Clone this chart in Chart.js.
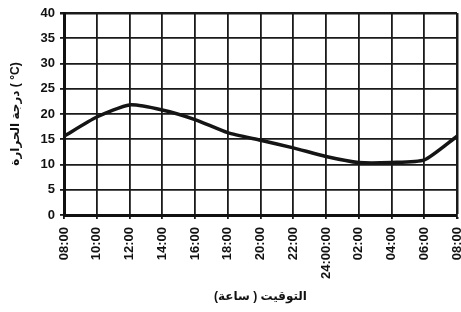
<!DOCTYPE html>
<html><head><meta charset="utf-8">
<script src="https://cdn.jsdelivr.net/npm/chart.js@4/dist/chart.umd.min.js"></script>
<style>html,body{margin:0;padding:0;background:#fff}#w{width:461px;height:312px}</style>
</head><body><div id="w"><canvas id="c"></canvas></div>
<script>
const categories = ["08:00","10:00","12:00","14:00","16:00","18:00","20:00","22:00","24:00:00","02:00","04:00","06:00","08:00"];
const temperatures = [15.6,19.4,21.8,20.8,18.9,16.3,14.8,13.3,11.6,10.4,10.4,10.9,15.6];
const yTicks = [0,5,10,15,20,25,30,35,40];
const xTitle = "التوقيت ( ساعة)";
const yTitle = "درجة الحرارة ( °C)";

const FONT = "Arial, 'Liberation Sans', 'DejaVu Sans', sans-serif";
new Chart(document.getElementById('c'), {
  type: 'line',
  data: { labels: categories, datasets: [{ data: temperatures, borderColor: '#151515', borderWidth: 3.5, pointRadius: 0, tension: 0.2, fill: false }] },
  options: {
    responsive: true, maintainAspectRatio: false, animation: false,
    layout: { padding: { top: 13, right: 4, left: 0, bottom: 0 } },
    plugins: { legend: { display: false }, tooltip: { enabled: false } },
    scales: {
      x: {
        type: 'category', offset: false,
        afterFit: s => { s.height = 97; s.paddingLeft = 0; s.paddingRight = 0; },
        grid: { color: '#1a1a1a', lineWidth: c => (c.index === categories.length - 1 ? 2.5 : 1.8), tickLength: 4, drawTicks: true },
        border: { color: '#111', width: 3 },
        ticks: { color: '#111', font: { family: FONT, size: 13, weight: 'bold' }, minRotation: 90, maxRotation: 90, padding: 8, autoSkip: false },
        title: { display: true, text: xTitle, color: '#111', font: { family: FONT, size: 12, weight: 'bold' }, padding: { top: 4, bottom: 8 } }
      },
      y: {
        min: 0, max: 40,
        afterFit: s => { s.width = 64; s.paddingTop = 0; s.paddingBottom = 0; },
        afterBuildTicks: s => { s.ticks = yTicks.map(v => ({ value: v })); },
        grid: { color: '#1a1a1a', lineWidth: c => (c.tick && c.tick.value === 40 ? 2.5 : 1.8), tickLength: 4 },
        border: { color: '#111', width: 3 },
        ticks: { color: '#111', font: { family: FONT, size: 13, weight: 'bold' }, padding: 5, stepSize: 5 },
        title: { display: true, text: yTitle, color: '#111', font: { family: FONT, size: 12, weight: 'bold' }, padding: { top: 8, bottom: 2 } }
      }
    }
  }
});
</script></body></html>
